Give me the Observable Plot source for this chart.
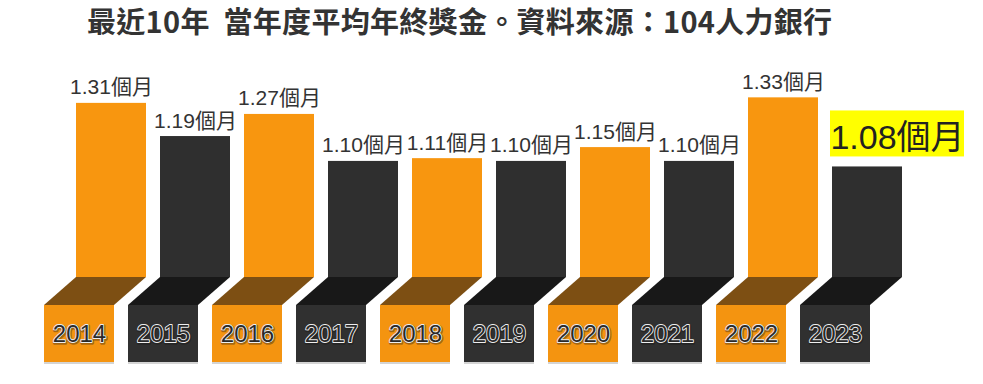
<!DOCTYPE html>
<html>
<head>
<meta charset="utf-8">
<script src="https://cdn.jsdelivr.net/npm/d3@7"></script>
<script src="https://cdn.jsdelivr.net/npm/@observablehq/plot@0.6"></script>
<style>
  html, body { margin: 0; padding: 0; background: #fff; }
  #title {
    height: 45px; line-height: 41px; padding-left: 87px;
    font-family: "Noto Sans CJK TC", "Noto Sans", sans-serif;
    font-weight: bold; font-size: 29px; letter-spacing: 0.3px; color: #333; white-space: pre;
  }
</style>
</head>
<body>
<div id="title">最近10年  當年度平均年終獎金。資料來源：104人力銀行</div>
<div id="chart"></div>
<script>
const years = ["2014","2015","2016","2017","2018","2019","2020","2021","2022","2023"];
const values = [1.31, 1.19, 1.27, 1.10, 1.11, 1.10, 1.15, 1.10, 1.33, 1.08];
const groups = ["orange","dark","orange","dark","orange","dark","orange","dark","orange","dark"];
const highlightYear = "2023";
const unit = "個月";
const yDomain = [0.68, 1.40];

const topColors = {orange: "#F8960F", dark: "#2F2F2F"};
const foldColors = {orange: "#7D4F13", dark: "#181818"};
const boxColors = {orange: "#F49410", dark: "#303030"};

const data = years.map((y, i) => ({year: y, value: values[i], group: groups[i]}));
const normal = data.filter(d => d.year !== highlightYear);
const hi = data.filter(d => d.year === highlightYear);

const SHIFT = 32, DEPTH = 28, BOX = 57;

function folds(index, scales, vals, dimensions) {
  const x = scales.x, y = scales.y;
  const bw = typeof x.bandwidth === "function" ? x.bandwidth() : x.bandwidth;
  const base = y(yDomain[0]);
  const g = d3.create("svg:g");
  for (const d of data) {
    const x0 = x(d.year);
    const pts = [[x0, base], [x0 + bw, base], [x0 + bw - SHIFT, base + DEPTH], [x0 - SHIFT, base + DEPTH]];
    g.append("polygon").attr("points", pts.map(p => p.join(",")).join(" ")).attr("fill", foldColors[d.group]);
  }
  return g.node();
}

const font = "Liberation Sans, Arial, Noto Sans CJK TC, sans-serif";

const chart = Plot.plot({
  width: 983, height: 339,
  marginLeft: 59, marginRight: 64, marginTop: 33, marginBottom: 107,
  x: {type: "band", domain: years, padding: 0.17, axis: null},
  y: {domain: yDomain, axis: null},
  style: {fontFamily: font, background: "#fff"},
  marks: [
    Plot.barY(data, {x: "year", y1: () => yDomain[0], y2: "value", fill: d => topColors[d.group]}),
    folds,
    Plot.barY(data, {x: "year", y1: () => yDomain[0], y2: () => yDomain[0], insetTop: DEPTH + 2, insetBottom: -(DEPTH + BOX + 2), dx: -SHIFT, fill: "#d4d4d4"}),
    Plot.barY(data, {x: "year", y1: () => yDomain[0], y2: () => yDomain[0], insetTop: DEPTH, insetBottom: -(DEPTH + BOX), dx: -SHIFT, fill: d => boxColors[d.group]}),
    Plot.text(data, {x: "year", y: () => yDomain[0], text: "year", dx: -SHIFT + 0.5, dy: DEPTH + BOX / 2 + 1.5, fontSize: 24, fill: "#111", stroke: "#111", strokeWidth: 3.5, strokeOpacity: 0.35, fillOpacity: 0.5}),
    Plot.text(data, {x: "year", y: () => yDomain[0], text: "year", dx: -SHIFT, dy: DEPTH + BOX / 2, fontSize: 24, fill: "#2a2a2a", stroke: "#eeeeee", strokeWidth: 1.8, paintOrder: "stroke"}),
    Plot.text(normal, {x: "year", y: "value", text: d => d.value.toFixed(2) + unit, lineAnchor: "bottom", dy: -9, fontSize: 21, fill: "#333"}),
    Plot.barY(hi, {x: "year", y1: "value", y2: "value", insetTop: -56, insetBottom: 10, insetLeft: -32, insetRight: -32, dx: 30, fill: "#FFFF00"}),
    Plot.text(hi, {x: "year", y: "value", text: d => d.value.toFixed(2) + unit, lineAnchor: "bottom", dx: 30, dy: -18, fontSize: 34, fill: "#222"})
  ]
});
document.getElementById("chart").appendChild(chart);
</script>
</body>
</html>
